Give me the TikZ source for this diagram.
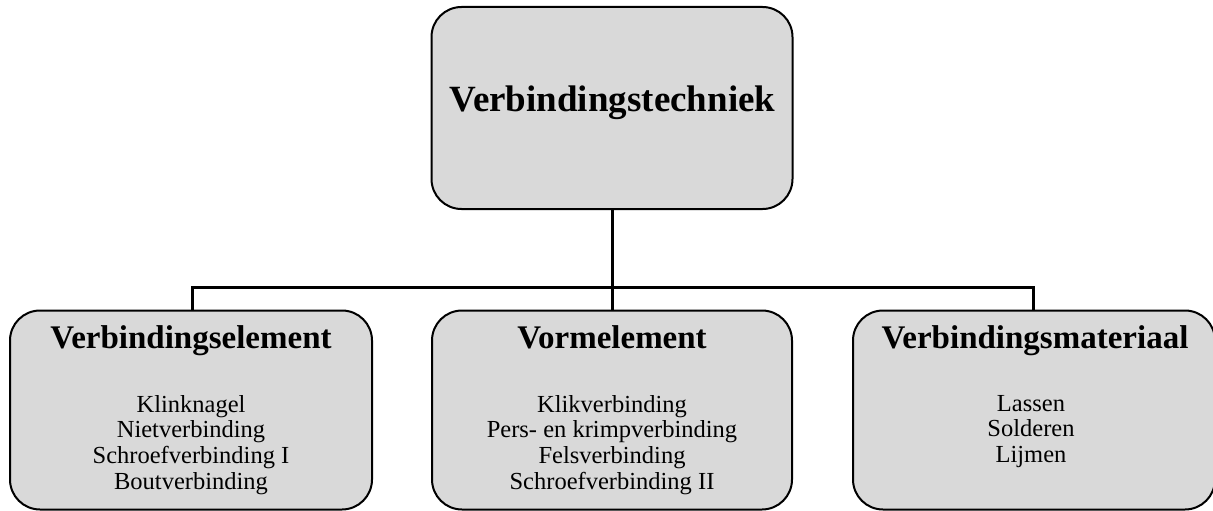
\documentclass[tikz,border=0pt]{standalone}
\usepackage{fontspec}
\setmainfont{Liberation Serif}
\definecolor{boxgray}{HTML}{D9D9D9}
\begin{document}
\begin{tikzpicture}[x=1pt,y=-1pt,
  box/.style={draw=black, line width=2pt, fill=boxgray, rounded corners=30pt, inner sep=0pt},
  head/.style={font=\fontsize{33}{38}\selectfont\bfseries, anchor=base, inner sep=0pt},
  lst/.style={font=\fontsize{24.5}{25.7}\selectfont, align=center, anchor=north, inner sep=0pt},
  conn/.style={draw=black, line width=3pt}]
\useasboundingbox (0,0) rectangle (1213,511);
% boxes
\node[box, minimum width=361pt, minimum height=202pt] (top) at (612,108) {};
\node[box, minimum width=362pt, minimum height=199pt] (left) at (191,410) {};
\node[box, minimum width=360pt, minimum height=199pt] (mid) at (612,410) {};
\node[box, minimum width=362pt, minimum height=199pt] (right) at (1034,410) {};
% texts
\node[font=\fontsize{37}{42}\selectfont\bfseries, anchor=base, inner sep=0pt] (toptext) at (612.5,111) {Verbindingstechniek};
\node[head] (lhead) at (191,348) {Verbindingselement};
\node[head] (mhead) at (612,348) {Vormelement};
\node[head] (rhead) at (1035,348) {Verbindingsmateriaal};
\node[lst] (llist) at (191,395) {Klinknagel\\Nietverbinding\\Schroefverbinding I\\Boutverbinding};
\node[lst] (mlist) at (612,395) {Klikverbinding\\Pers- en krimpverbinding\\Felsverbinding\\Schroefverbinding II};
\node[lst] (rlist) at (1031,395) {Lassen\\Solderen\\Lijmen};
% connectors
\coordinate (bus) at (612,287);
\draw[conn] (top.south) -- (bus);
\draw[conn] (left.north -| 192,0) |- (bus);
\draw[conn] (bus) -| (1033,0 |- right.north);
\draw[conn] (bus) -- (mid.north);
\end{tikzpicture}
\end{document}
